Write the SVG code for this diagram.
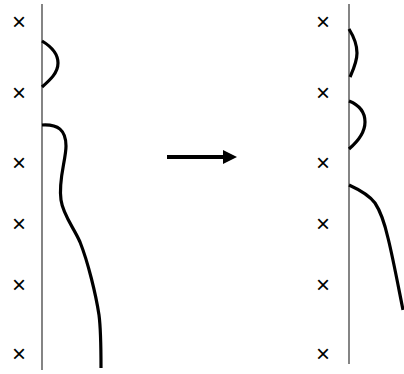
<svg xmlns="http://www.w3.org/2000/svg" width="404" height="374" viewBox="0 0 404 374">
<style>
.axis{stroke:#333;stroke-width:1.2;fill:none}
.curve{stroke:#000;stroke-width:3.2;fill:none;stroke-linecap:butt}
.x{font-family:"Liberation Sans",Arial,sans-serif;font-size:24px;fill:#000;text-anchor:middle}
</style>
<rect width="404" height="374" fill="#fff"/>
<g id="left-panel">
<line class="axis" x1="42" y1="4" x2="42" y2="370"/>
<g class="x">
<text x="19" y="30">×</text>
<text x="19" y="101">×</text>
<text x="19" y="171">×</text>
<text x="19" y="232">×</text>
<text x="19" y="293">×</text>
<text x="19" y="362">×</text>
</g>
<path class="curve" d="M42,41 C52,47 58,54 58,63 C58,73 50,80 42,87"/>
<path class="curve" d="M42,125 C58,124 66,130 66,146 C66,160 58,180 61,200 C63,215 74,228 80,242 C88,262 96,295 99,315 C101,330 101,345 101,368"/>
</g>
<g id="right-panel">
<line class="axis" x1="349" y1="4" x2="349" y2="364"/>
<g class="x">
<text x="323" y="30">×</text>
<text x="323" y="101">×</text>
<text x="323" y="171">×</text>
<text x="323" y="232">×</text>
<text x="323" y="293">×</text>
<text x="323" y="362">×</text>
</g>
<path class="curve" d="M349,29 C354,37 357,45 357,53 C357,62 353,70 350,77"/>
<path class="curve" d="M349,101 C359,105 365,111 365,122 C365,134 356,143 349,149"/>
<path class="curve" d="M349,185 C360,190 369,195 375,203 C381,212 385,225 388,238 C393,258 398,285 403,310"/>
</g>
<g id="connectors">
<line x1="167" y1="157" x2="224" y2="157" stroke="#000" stroke-width="4"/>
<polygon points="223,150 237,157 223,164" fill="#000"/>
</g>
</svg>
